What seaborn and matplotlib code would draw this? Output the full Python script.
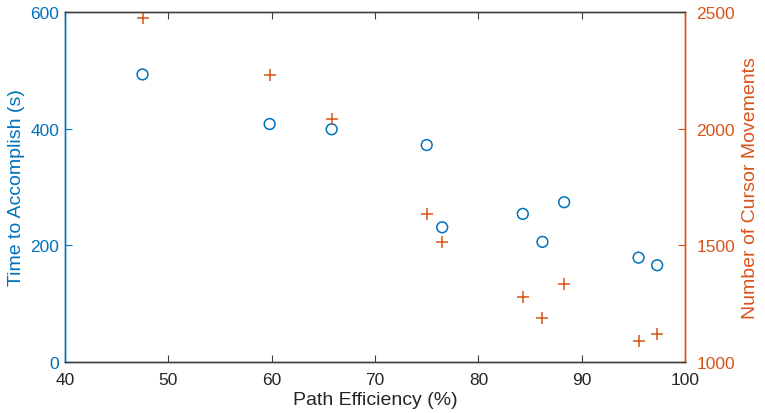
import numpy as np
import pandas as pd
import seaborn as sns
import matplotlib.pyplot as plt

sns.set_style("white")
plt.rcParams['font.family'] = ['Liberation Sans', 'DejaVu Sans']

path_eff = [47.5, 59.8, 65.8, 75.0, 76.5, 84.3, 86.2, 88.3, 95.5, 97.3]
time_s = [493, 408, 399, 372, 231, 254, 206, 274, 179, 166]
moves = [2474, 2230, 2041, 1634, 1516, 1279, 1189, 1334, 1090, 1120]

df = pd.DataFrame({"eff": path_eff, "time": time_s, "moves": moves})

blue = "#0072BD"
orange = "#D95319"
gray = "#404040"

fig = plt.figure(figsize=(7.65, 4.14), dpi=100)
ax = fig.add_axes([0.085, 0.123, 0.8105, 0.8456])
ax2 = ax.twinx()

#time on left axis
sns.scatterplot(data=df, x="eff", y="time", ax=ax, marker="o", s=60,
                facecolors="none", edgecolor=blue, linewidth=1.1)
#cursor movements on right axis
sns.scatterplot(data=df, x="eff", y="moves", ax=ax2, marker="+", s=75,
                color=orange, linewidth=1.1)

ax.set_xlim(40, 100)
ax.set_ylim(0, 600)
ax2.set_ylim(1000, 2500)
ax.set_xticks(range(40, 101, 10))
ax.set_yticks([0, 200, 400, 600])
ax2.set_yticks([1000, 1500, 2000, 2500])

ax.set_xlabel("Path Efficiency (%)", fontsize=14, color="#262626", labelpad=3)
ax.set_ylabel("Time to Accomplish (s)", fontsize=14, color=blue, labelpad=4)
ax2.set_ylabel("Number of Cursor Movements", fontsize=14, color=orange, labelpad=5)

for a in (ax, ax2):
    for sp in a.spines.values():
        sp.set_linewidth(1.0)
        sp.set_color(gray)
    a.spines["left"].set_color(blue)
    a.spines["right"].set_color(orange)

ax.tick_params(axis="x", direction="in", length=5, labelsize=12.5, colors=gray,
               labelcolor="#262626", top=True, bottom=True, pad=7)
ax.tick_params(axis="y", direction="in", length=5, labelsize=12.5, colors=blue,
               left=True, pad=4)
ax2.tick_params(axis="y", direction="in", length=5, labelsize=12.5, colors=orange,
                right=True, pad=8)

fig.savefig("out.png", dpi=100)
